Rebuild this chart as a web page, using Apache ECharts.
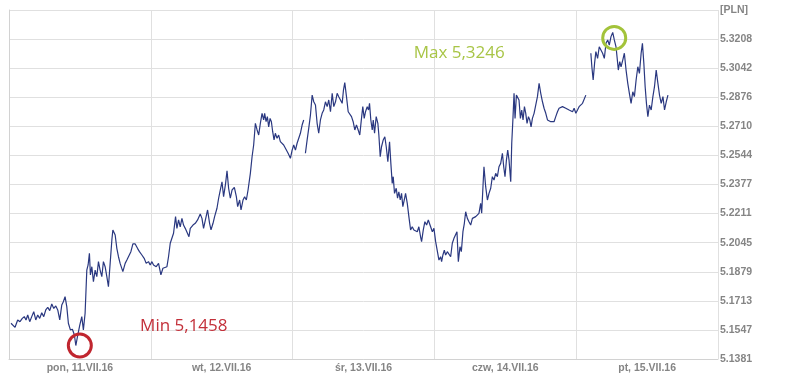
<!DOCTYPE html>
<html>
<head>
<meta charset="utf-8">
<script src="https://cdn.jsdelivr.net/npm/echarts@6/dist/echarts.min.js"></script>
<style>html,body{margin:0;padding:0;background:#fff}#chart{width:787px;height:385px}</style>
</head>
<body>
<div id="chart"></div>
<script>
// x = hours since Monday 00:00 (each trading day spans 24 units), y = PLN rate
const dayLabels = ['pon, 11.VII.16', 'wt, 12.VII.16', 'śr, 13.VII.16', 'czw, 14.VII.16', 'pt, 15.VII.16'];
const yTickLabels = ['5.1381','5.1547','5.1713','5.1879','5.2045','5.2211','5.2377','5.2544','5.2710','5.2876','5.3042','5.3208','[PLN]'];
const yMin = 5.1381;
const yMax = 5.3374;

const quotesMon = [
[0.34,5.1585],[1.02,5.1562],[1.47,5.1604],[1.86,5.1594],[2.25,5.1613],[2.59,5.1623],[2.88,5.1604],[3.17,5.1632],[3.51,5.1594],[3.85,5.1623],
[4.19,5.1651],[4.53,5.1604],[4.86,5.1632],[5.20,5.1613],[5.54,5.1645],[5.88,5.1623],[6.22,5.1661],[6.56,5.1676],[6.90,5.1657],[7.24,5.1695],
[7.58,5.1670],[7.92,5.1684],[8.25,5.1661],[8.59,5.1604],[8.93,5.1689],[9.20,5.1708],[9.49,5.1737],[9.78,5.1680],[10.05,5.1585],[10.39,5.1547],
[10.73,5.1551],[11.07,5.1518],[11.31,5.1458],[11.64,5.1518],[11.98,5.1575],[12.32,5.1623],[12.59,5.1547],[12.88,5.1642],[13.17,5.1889],[13.39,5.1918],
[13.61,5.1985],[13.78,5.1861],[14.02,5.1908],[14.29,5.1822],[14.58,5.1889],[14.86,5.1851],[15.14,5.1937],[15.42,5.1889],[15.71,5.1851],[15.98,5.1937],
[16.27,5.1908],[16.56,5.1851],[16.83,5.1794],[17.12,5.1927],[17.41,5.2061],[17.58,5.2118],[17.97,5.2089],[18.25,5.2013],[18.53,5.1965],[18.81,5.1927],
[19.27,5.1880],[19.66,5.1927],[19.95,5.1946],[20.22,5.1937],[20.63,5.1994],[20.97,5.2038],[21.36,5.2038],[21.75,5.2013],[22.08,5.1994],[22.49,5.1975],
[22.88,5.1956],[23.22,5.1927],[23.61,5.1937],[23.90,5.1918]
];
const quotesTue = [
[24.19,5.1937],[24.46,5.1918],[24.92,5.1908],[25.31,5.1927],[25.71,5.1861],[26.05,5.1899],[26.27,5.1889],[26.73,5.1908],[27.00,5.1965],[27.29,5.2042],
[27.58,5.2032],[27.85,5.2099],[28.19,5.2194],[28.42,5.2127],[28.70,5.2175],[28.98,5.2136],[29.27,5.2184],[29.54,5.2146],[29.83,5.2127],[30.12,5.2118],
[30.46,5.2079],[30.68,5.2127],[31.14,5.2146],[31.53,5.2156],[31.92,5.2175],[32.37,5.2209],[32.66,5.2184],[32.93,5.2127],[33.22,5.2118],[33.61,5.2232],
[33.95,5.2156],[34.19,5.2118],[34.53,5.2156],[34.80,5.2194],[35.20,5.2242],[35.48,5.2299],[35.76,5.2346],[36.05,5.2393],[36.32,5.2308],[36.66,5.2384],
[36.90,5.2456],[37.17,5.2356],[37.46,5.2299],[37.75,5.2346],[38.14,5.2361],[38.48,5.2308],[38.70,5.2251],[39.04,5.2289],[39.27,5.2232],[39.61,5.2289],
[39.88,5.2308],[40.17,5.2289],[40.46,5.2346],[40.85,5.2441],[41.14,5.2536],[41.41,5.2603],[41.70,5.2727],[41.99,5.2689],[42.26,5.2660],[42.54,5.2727],
[42.83,5.2784],[43.10,5.2746],[43.27,5.2784],[43.51,5.2736],[43.73,5.2765],[43.95,5.2707],[44.19,5.2755],[44.41,5.2736],[44.63,5.2679],[44.86,5.2632],
[45.08,5.2670],[45.37,5.2641],[45.64,5.2660],[45.93,5.2622],[46.22,5.2613],[46.49,5.2603],[46.78,5.2593],[47.24,5.2556],[47.63,5.2527],[47.92,5.2574]
];
const quotesWed = [
[48.19,5.2603],[48.48,5.2574],[48.76,5.2613],[49.03,5.2622],[49.32,5.2670],[49.61,5.2717],[49.88,5.2746],[50.02,null],[50.17,5.2556],[50.46,5.2632],
[50.73,5.2698],[51.02,5.2774],[51.31,5.2888],[51.58,5.2850],[51.87,5.2831],[52.15,5.2727],[52.42,5.2670],[52.71,5.2746],[53.00,5.2784],[53.27,5.2803],
[53.56,5.2850],[53.85,5.2822],[54.12,5.2860],[54.41,5.2793],[54.70,5.2898],[54.97,5.2822],[55.26,5.2850],[55.54,5.2898],[55.81,5.2879],[56.10,5.2888],
[56.39,5.2841],[56.61,5.2917],[56.83,5.2959],[57.12,5.2879],[57.41,5.2793],[57.68,5.2803],[57.97,5.2765],[58.25,5.2736],[58.53,5.2689],[58.81,5.2717],
[59.10,5.2689],[59.37,5.2660],[59.66,5.2755],[59.88,5.2822],[60.12,5.2755],[60.34,5.2793],[60.63,5.2822],[60.85,5.2803],[61.02,5.2841],[61.24,5.2746],
[61.48,5.2689],[61.65,5.2746],[61.87,5.2670],[62.15,5.2765],[62.43,5.2727],[62.60,5.2660],[62.83,5.2536],[63.05,5.2593],[63.34,5.2632],[63.61,5.2650],
[63.85,5.2593],[64.12,5.2508],[64.41,5.2622],[64.63,5.2498],[64.86,5.2384],[65.03,5.2422],[65.25,5.2327],[65.54,5.2356],[65.76,5.2299],[65.98,5.2336],
[66.22,5.2289],[66.44,5.2327],[66.66,5.2251],[66.90,5.2289],[67.12,5.2327],[67.41,5.2270],[67.68,5.2194],[67.97,5.2118],[68.25,5.2136],[68.53,5.2118],
[68.82,5.2127],[69.10,5.2108],[69.37,5.2136],[69.66,5.2079],[69.83,5.2051],[70.12,5.2118],[70.39,5.2165],[70.68,5.2146],[70.97,5.2175],[71.36,5.2136],
[71.65,5.2108],[71.92,5.2127]
];
const quotesThu = [
[72.21,5.2051],[72.49,5.2042],[72.77,5.1946],[73.05,5.1965],[73.22,5.1937],[73.44,5.1975],[73.68,5.2003],[73.90,5.1975],[74.19,5.1994],[74.46,5.1985],
[74.75,5.1965],[75.03,5.2042],[75.31,5.2070],[75.60,5.2061],[75.82,5.2108],[76.05,5.1937],[76.33,5.2022],[76.56,5.1994],[76.83,5.2108],[77.07,5.2156],
[77.29,5.2222],[77.58,5.2184],[77.85,5.2165],[78.14,5.2146],[78.43,5.2184],[78.70,5.2175],[78.99,5.2194],[79.27,5.2194],[79.54,5.2213],[79.83,5.2270],
[80.00,5.2213],[80.22,5.2365],[80.39,5.2479],[80.68,5.2365],[80.97,5.2289],[81.24,5.2327],[81.53,5.2356],[81.81,5.2422],[82.09,5.2403],[82.37,5.2441],
[82.66,5.2422],[82.93,5.2479],[83.22,5.2498],[83.51,5.2556],[83.73,5.2479],[83.95,5.2422],[84.19,5.2517],[84.41,5.2574],[84.63,5.2517],[84.92,5.2393],
[85.09,5.2613],[85.31,5.2765],[85.48,5.2898],[85.65,5.2755],[85.88,5.2888],[86.10,5.2879],[86.32,5.2860],[86.56,5.2755],[86.78,5.2803],[87.00,5.2746],
[87.24,5.2822],[87.46,5.2784],[87.68,5.2727],[87.92,5.2765],[88.14,5.2746],[88.36,5.2707],[88.59,5.2755],[88.87,5.2784],[89.15,5.2793],[89.44,5.2879],
[89.72,5.2955],[90.00,5.2898],[90.29,5.2850],[90.56,5.2813],[90.85,5.2784],[91.14,5.2746],[91.41,5.2736],[91.70,5.2736],[91.98,5.2730],[92.25,5.2736],
[92.54,5.2765],[92.83,5.2793],[93.10,5.2813],[93.39,5.2803],[93.68,5.2822],[93.95,5.2831],[94.24,5.2813],[94.53,5.2822],[94.80,5.2803],[95.09,5.2813],
[95.38,5.2793],[95.65,5.2813],[95.94,5.2784]
];
const quotesFri = [
[96.22,5.2803],[96.49,5.2822],[96.78,5.2813],[97.07,5.2841],[97.34,5.2850],[97.63,5.2888],[98.00,null],[98.48,5.3127],[98.65,5.3050],[98.87,5.2974],
[99.11,5.3069],[99.33,5.3136],[99.62,5.3098],[99.90,5.3164],[100.18,5.3164],[100.47,5.3127],[100.76,5.3098],[101.04,5.3184],[101.33,5.3203],[101.60,5.3174],
[101.89,5.3222],[102.18,5.3246],[102.45,5.3203],[102.74,5.3164],[102.91,5.3107],[103.13,5.3031],[103.37,5.3079],[103.59,5.3050],[103.88,5.3088],[104.15,5.3127],
[104.44,5.3031],[104.73,5.2955],[105.00,5.2898],[105.29,5.2841],[105.58,5.2907],[105.85,5.2879],[106.14,5.2974],[106.43,5.3050],[106.70,5.3012],[106.99,5.3127],
[107.21,5.3184],[107.45,5.3069],[107.67,5.2936],[107.89,5.2841],[108.13,5.2765],[108.40,5.2831],[108.69,5.2803],[108.98,5.2879],[109.25,5.2936],[109.54,5.3031],
[109.83,5.2955],[110.10,5.2888],[110.39,5.2841],[110.68,5.2879],[110.95,5.2803],[111.24,5.2850],[111.53,5.2888]
];

const seriesData = [].concat(quotesMon, quotesTue, quotesWed, quotesThu, quotesFri)
  .map(p => [p[0], p[1] === null ? '-' : p[1]]);

const gridColor = '#e0e0e0';
const labelColor = '#858585';
const yStep = (yMax - yMin) / 12;

const chart = echarts.init(document.getElementById('chart'), null, {renderer: 'canvas'});
chart.setOption({
  animation: false,
  backgroundColor: '#ffffff',
  grid: {left: 9, right: 69, top: 10, bottom: 26, containLabel: false},
  xAxis: [{
    type: 'value', min: 0, max: 120, interval: 24,
    axisLine: {show: true, lineStyle: {color: '#d2d2d2', width: 1}},
    axisTick: {show: false},
    axisLabel: {show: false},
    splitLine: {show: true, lineStyle: {color: gridColor, width: 1}}
  }, {
    type: 'value', min: 0, max: 120, interval: 12, position: 'bottom',
    axisLine: {show: false}, axisTick: {show: false}, splitLine: {show: false},
    axisLabel: {
      show: true, margin: 4, color: labelColor, fontSize: 10.5, fontWeight: 'bold',
      fontFamily: '"Liberation Sans", Arial, sans-serif',
      formatter: v => (v % 24 === 12 ? dayLabels[(v - 12) / 24] : '')
    }
  }],
  yAxis: {
    type: 'value', position: 'right', min: yMin, max: yMax, interval: yStep,
    axisLine: {show: true, lineStyle: {color: '#d2d2d2', width: 1}},
    axisTick: {show: false},
    splitLine: {show: true, lineStyle: {color: gridColor, width: 1}},
    axisLabel: {
      margin: 2, color: labelColor, fontSize: 10.5, fontWeight: 'bold',
      fontFamily: '"Liberation Sans", Arial, sans-serif',
      formatter: (v, i) => yTickLabels[i] || ''
    }
  },
  series: [{
    type: 'line',
    xAxisIndex: 0,
    data: seriesData,
    showSymbol: false,
    connectNulls: false,
    lineStyle: {color: '#2a3880', width: 1.2},
    markPoint: {
      symbol: 'circle',
      symbolSize: 23,
      data: [
        {type: 'min', symbolOffset: [4, 0],
         itemStyle: {color: 'rgba(0,0,0,0)', borderColor: '#c0262f', borderWidth: 3},
         label: {show: true, position: 'inside', offset: [104, -19], color: '#c3303a',
           fontSize: 17, fontFamily: '"Open Sans", sans-serif',
           formatter: p => 'Min ' + p.value.toFixed(4).replace('.', ',')}},
        {type: 'max', symbolOffset: [1.5, 5.5],
         itemStyle: {color: 'rgba(0,0,0,0)', borderColor: '#a3c33a', borderWidth: 3},
         label: {show: true, position: 'inside', offset: [-155, 15], color: '#a8c546',
           fontSize: 17, fontFamily: '"Open Sans", sans-serif',
           formatter: p => 'Max ' + p.value.toFixed(4).replace('.', ',')}}
      ]
    }
  }]
});
</script>
</body>
</html>
